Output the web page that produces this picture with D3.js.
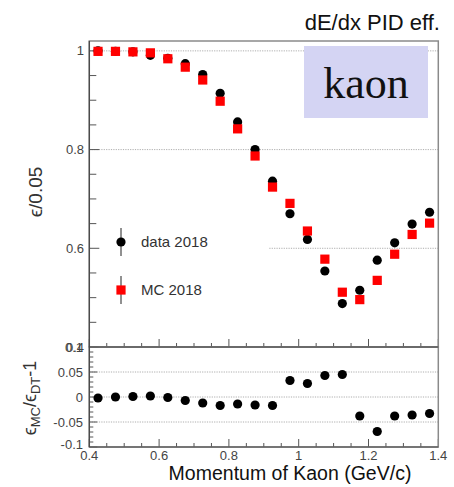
<!DOCTYPE html>
<html>
<head>
<meta charset="utf-8">
<script src="https://cdn.jsdelivr.net/npm/d3@7"></script>
<style>
  body { margin: 0; background: #fff; }
  text { font-family: "Liberation Sans", Arial, sans-serif; }
</style>
</head>
<body>
<div id="chart"></div>
<script>
// momentum bin centres (GeV/c)
var momentum = [0.425, 0.475, 0.525, 0.575, 0.625, 0.675, 0.725, 0.775, 0.825, 0.875,
                0.925, 0.975, 1.025, 1.075, 1.125, 1.175, 1.225, 1.275, 1.325, 1.375];
// efficiency, data 2018
var effData = [1.000, 0.999, 0.998, 0.991, 0.985, 0.974, 0.952, 0.914, 0.856, 0.800,
               0.736, 0.670, 0.618, 0.554, 0.488, 0.515, 0.576, 0.611, 0.649, 0.673];
// efficiency, MC 2018
var effMC = [0.999, 0.999, 0.998, 0.996, 0.984, 0.967, 0.941, 0.898, 0.842, 0.787,
             0.724, 0.691, 0.635, 0.578, 0.511, 0.496, 0.535, 0.588, 0.628, 0.651];
// ratio eps_MC/eps_DT - 1
var ratio = [-0.002, 0.000, 0.001, 0.002, -0.001, -0.007, -0.012, -0.017, -0.014, -0.016,
             -0.017, 0.033, 0.027, 0.043, 0.045, -0.038, -0.069, -0.038, -0.036, -0.033];

var xTicks = [0.4, 0.6, 0.8, 1, 1.2, 1.4];
var yTopTicks = [0.4, 0.6, 0.8, 1];
var yBotTicks = [-0.1, -0.05, 0, 0.05, 0.1];
var legendItems = ['data 2018', 'MC 2018'];

var W = 454, H = 487;
var svg = d3.select('#chart').append('svg').attr('width', W).attr('height', H);

var x = d3.scaleLinear().domain([0.4, 1.4]).range([89.3, 438.3]);
var yTop = d3.scaleLinear().domain([0.4, 1.02]).range([347, 41]);
var yBot = d3.scaleLinear().domain([-0.1, 0.1]).range([447, 347]);

var frameCol = '#8a8a8a', tickCol = '#555', labCol = '#444';

// grid lines (dotted)
function grid(scale, vals) {
    svg.append('g').selectAll('line').data(vals).enter().append('line')
        .attr('x1', x(0.4)).attr('x2', x(1.4))
        .attr('y1', d => scale(d)).attr('y2', d => scale(d))
        .attr('stroke', '#999').attr('stroke-width', 0.8)
        .attr('stroke-dasharray', '1.2,1.2');
}
grid(yTop, [0.6, 0.8, 1]);
grid(yBot, [-0.05, 0, 0.05]);

// legend background hides part of the 0.6 grid line
svg.append('rect').attr('x', 91).attr('y', 215).attr('width', 178).attr('height', 100).attr('fill', '#fff');

// kaon box
svg.append('rect').attr('x', 304).attr('y', 46).attr('width', 124).attr('height', 72).attr('fill', '#d4d4f3');
svg.append('text').attr('x', 366).attr('y', 98).attr('text-anchor', 'middle')
    .style('font-family', '"Liberation Serif", "DejaVu Serif", serif').style('font-size', '44px')
    .attr('fill', '#111').text('kaon');

// ticks
function xTickMarks(y0) {
    var minor = d3.range(0.4, 1.4001, 0.05);
    svg.append('g').selectAll('line').data(minor).enter().append('line')
        .attr('x1', d => x(d)).attr('x2', d => x(d))
        .attr('y1', y0).attr('y2', d => y0 - (Math.abs(((d - 0.4) / 0.2) - Math.round((d - 0.4) / 0.2)) < 1e-6 ? 8 : 4))
        .attr('stroke', tickCol).attr('stroke-width', 1);
}
xTickMarks(yTop(0.4));
xTickMarks(yBot(-0.1));

function yTickMarks(scale, lo, hi, step, majStep, majLen, minLen) {
    var vals = d3.range(lo, hi + step / 2, step);
    svg.append('g').selectAll('line').data(vals).enter().append('line')
        .attr('x1', x(0.4)).attr('x2', d => {
            var r = (d - lo) / majStep;
            return x(0.4) + (Math.abs(r - Math.round(r)) < 1e-6 ? majLen : minLen);
        })
        .attr('y1', d => scale(d)).attr('y2', d => scale(d))
        .attr('stroke', tickCol).attr('stroke-width', 1);
}
yTickMarks(yTop, 0.4, 1.0, 0.05, 0.2, 10, 7);
yTickMarks(yBot, -0.1, 0.1, 0.01, 0.05, 8, 4);

// frames
svg.append('rect').attr('x', x(0.4)).attr('y', yTop(1.02))
    .attr('width', x(1.4) - x(0.4)).attr('height', yTop(0.4) - yTop(1.02))
    .attr('fill', 'none').attr('stroke', frameCol).attr('stroke-width', 1.5);
svg.append('rect').attr('x', x(0.4)).attr('y', yBot(0.1))
    .attr('width', x(1.4) - x(0.4)).attr('height', yBot(-0.1) - yBot(0.1))
    .attr('fill', 'none').attr('stroke', frameCol).attr('stroke-width', 1.5);
svg.append('line').attr('x1', x(0.4)).attr('x2', x(1.4)).attr('y1', yTop(0.4)).attr('y2', yTop(0.4))
    .attr('stroke', '#444').attr('stroke-width', 1.2);
svg.append('line').attr('x1', x(0.4)).attr('x2', x(0.4)).attr('y1', yTop(1.02)).attr('y2', yBot(-0.1))
    .attr('stroke', '#444').attr('stroke-width', 1.2);
svg.append('line').attr('x1', x(0.4)).attr('x2', x(1.4)).attr('y1', yBot(-0.1)).attr('y2', yBot(-0.1))
    .attr('stroke', '#444').attr('stroke-width', 1.2);

// tick labels
var fmt = d => String(d);
svg.append('g').selectAll('text').data(yTopTicks).enter().append('text')
    .attr('x', 84).attr('y', d => yTop(d)).attr('dy', '0.35em').attr('text-anchor', 'end')
    .style('font-size', '13px').attr('fill', labCol).text(fmt);
svg.append('g').selectAll('text').data(yBotTicks).enter().append('text')
    .attr('x', 83).attr('y', d => yBot(d) - (d === -0.1 ? 2.5 : 0)).attr('dy', '0.35em').attr('text-anchor', 'end')
    .style('font-size', '13px').attr('fill', labCol).text(fmt);
svg.append('g').selectAll('text').data(xTicks).enter().append('text')
    .attr('x', d => x(d)).attr('y', 460).attr('text-anchor', 'middle')
    .style('font-size', '13px').attr('fill', labCol).text(fmt);

// markers: data first, MC on top
svg.append('g').selectAll('circle').data(momentum).enter().append('circle')
    .attr('cx', d => x(d)).attr('cy', (d, i) => yTop(effData[i])).attr('r', 4.6).attr('fill', '#000');
svg.append('g').selectAll('rect').data(momentum).enter().append('rect')
    .attr('x', d => x(d) - 4.6).attr('y', (d, i) => yTop(effMC[i]) - 4.6)
    .attr('width', 9.2).attr('height', 9.2).attr('fill', '#ff0000');
svg.append('g').selectAll('circle').data(momentum).enter().append('circle')
    .attr('cx', d => x(d)).attr('cy', (d, i) => yBot(ratio[i])).attr('r', 4.6).attr('fill', '#000');

// legend
var leg = svg.append('g').selectAll('g').data(legendItems).enter().append('g')
    .attr('transform', (d, i) => 'translate(121,' + (242 + i * 48) + ')');
leg.append('line').attr('x1', 0).attr('x2', 0).attr('y1', -14).attr('y2', 14)
    .attr('stroke', '#222').attr('stroke-width', 1);
leg.each(function(d, i) {
    var g = d3.select(this);
    if (i === 0) g.append('circle').attr('r', 4.6).attr('fill', '#000');
    else g.append('rect').attr('x', -4.6).attr('y', -4.6).attr('width', 9.2).attr('height', 9.2).attr('fill', '#ff0000');
});
leg.append('text').attr('x', 20).attr('dy', '0.35em').style('font-size', '15px').attr('fill', '#333').text(d => d);

// titles
svg.append('text').attr('x', 440).attr('y', 30).attr('text-anchor', 'end')
    .style('font-size', '22px').attr('fill', '#111').text('dE/dx PID eff.');
svg.append('text').attr('x', 290).attr('y', 480).attr('text-anchor', 'middle')
    .style('font-size', '19.5px').attr('fill', '#111').text('Momentum of Kaon (GeV/c)');
svg.append('text').attr('transform', 'translate(42,' + 192 + ') rotate(-90)')
    .attr('text-anchor', 'middle').style('font-size', '19px').attr('fill', '#333').text('\u03f5/0.05');
var yl = svg.append('text').attr('transform', 'translate(36,' + 398 + ') rotate(-90)')
    .attr('text-anchor', 'middle').style('font-size', '18px').attr('fill', '#333');
yl.append('tspan').text('\u03f5');
yl.append('tspan').attr('dy', 4).style('font-size', '13px').text('MC');
yl.append('tspan').attr('dy', -4).text('/\u03f5');
yl.append('tspan').attr('dy', 4).style('font-size', '13px').text('DT');
yl.append('tspan').attr('dy', -4).text('-1');
</script>
</body>
</html>
